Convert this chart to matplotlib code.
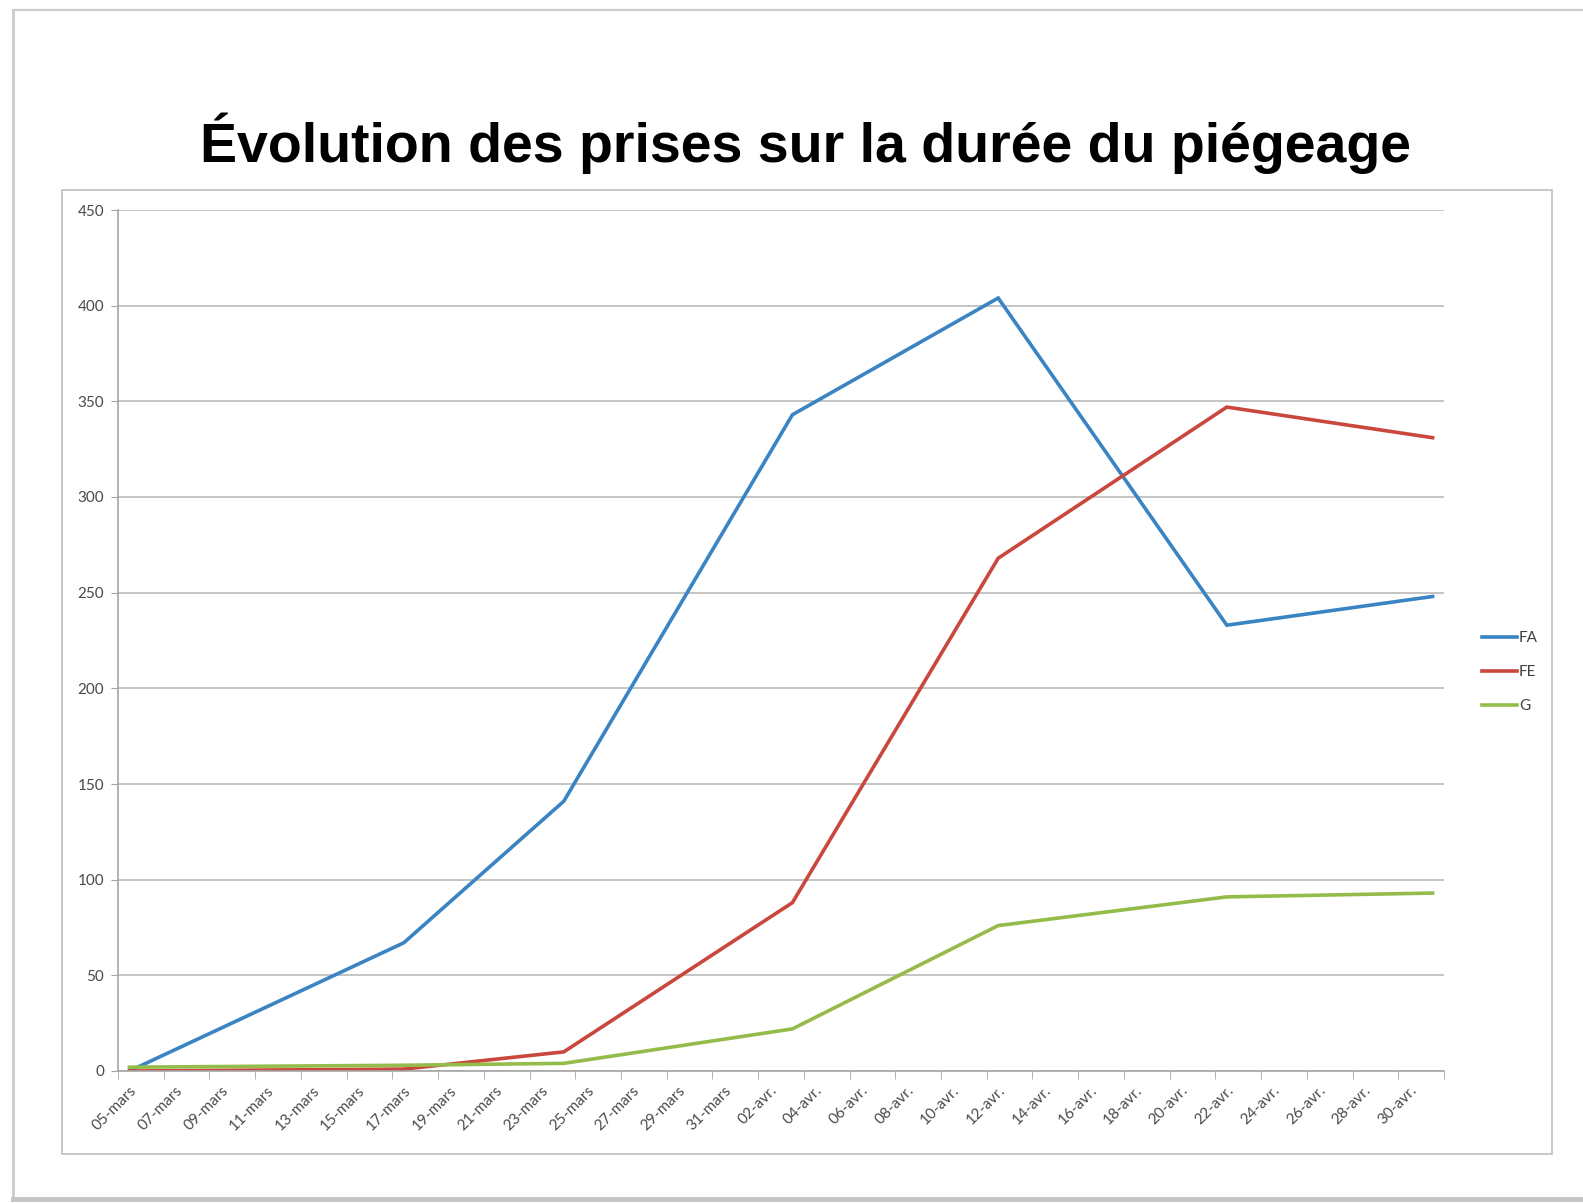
import matplotlib.pyplot as plt
import matplotlib.ticker as mticker
from matplotlib.patches import Rectangle
from matplotlib.lines import Line2D
import numpy as np

# relevés (jour/mois) et nombre de prises par piège
sample_dates = ["03-05", "03-17", "03-24", "04-03", "04-12", "04-22", "05-01"]
fa = [0, 67, 141, 343, 404, 233, 248]
fe = [0, 1, 10, 88, 268, 347, 331]
g = [2, 3, 4, 22, 76, 91, 93]
series_names = ["FA", "FE", "G"]
colors = ["#3A84C4", "#C9473D", "#94BC4A"]
month_names = {3: "mars", 4: "avr."}

start = np.datetime64("2015-03-05")
end = np.datetime64("2015-05-01")
dates = np.array(["2015-" + d for d in sample_dates], dtype="datetime64[D]")
x = (dates - start).astype(int)
n_days = int((end - start).astype(int)) + 1

W, H = 1583, 1203
fig = plt.figure(figsize=(W / 100, H / 100), dpi=100)
fig.patch.set_facecolor("white")

def px(x0, y0):
    return x0 / W, 1 - y0 / H

# cadre de la page (ombre en bas)
fig.add_artist(Line2D([13 / W, 13 / W], [1 - 10 / H, 1 - 1198 / H], color="#CCCCCC", lw=2.0))
fig.add_artist(Line2D([13 / W, 1.0], [1 - 10 / H, 1 - 10 / H], color="#CCCCCC", lw=1.6))
fig.add_artist(Line2D([13 / W, 1.0], [1 - 1199 / H, 1 - 1199 / H], color="#C4C4C4", lw=3.5))

# zone du graphique
fig.add_artist(Rectangle(px(62, 1154), (1552 - 62) / W, (1154 - 190) / H,
                         transform=fig.transFigure, fill=False, edgecolor="#BDBDBD", lw=1.2))

fig.text(806 / W, 1 - 162 / H, "Évolution des prises sur la durée du piégeage",
         ha="center", va="baseline", fontsize=40, fontweight="bold",
         family="Liberation Sans", color="black")

ax = fig.add_axes([118 / W, 1 - 1071 / H, (1444 - 118) / W, (1071 - 210) / H])

for vals, name, col in zip([fa, fe, g], series_names, colors):
    ax.plot(x, vals, color=col, lw=2.6, label=name, solid_joinstyle="miter")

ax.set_xlim(-0.5, n_days - 0.5)
ax.set_ylim(0, 450)
ax.yaxis.set_major_locator(mticker.MultipleLocator(50))
ax.grid(axis="y", color="#BFBFBF", lw=1.3)
ax.set_axisbelow(True)

tick_pos = np.arange(0, n_days - 1, 2)
tick_dates = start + tick_pos.astype("timedelta64[D]")
tick_labels = []
for d in tick_dates:
    m = int(str(d)[5:7])
    tick_labels.append(f"{str(d)[8:10]}-{month_names[m]}")
ax.set_xticks(tick_pos)
ax.set_xticklabels(tick_labels, rotation=45, ha="right", va="top",
                   rotation_mode="anchor", fontsize=11, family="Lato", color="#4A4A4A")
ax.tick_params(axis="x", which="major", length=0, pad=9)
ax.set_xticks(np.arange(-0.5, n_days, 2), minor=True)
ax.tick_params(axis="x", which="minor", length=6, color="#A6A6A6", direction="out")

ax.tick_params(axis="y", length=5, color="#A6A6A6", pad=5, labelsize=11, labelcolor="#4A4A4A")
for lab in ax.get_yticklabels():
    lab.set_family("Lato")

ax.spines[["top", "right"]].set_visible(False)
ax.spines[["left", "bottom"]].set_color("#A6A6A6")
ax.spines[["left", "bottom"]].set_linewidth(1.2)

leg = fig.legend(loc="center left", bbox_to_anchor=(1474 / W, 1 - 672 / H),
                 frameon=False, handlelength=2.3, handletextpad=0.15,
                 labelspacing=1.3, borderpad=0, prop={"family": "Lato", "size": 11})
for t in leg.get_texts():
    t.set_color("#404040")

fig.savefig("out.png", dpi=100, facecolor="white")
